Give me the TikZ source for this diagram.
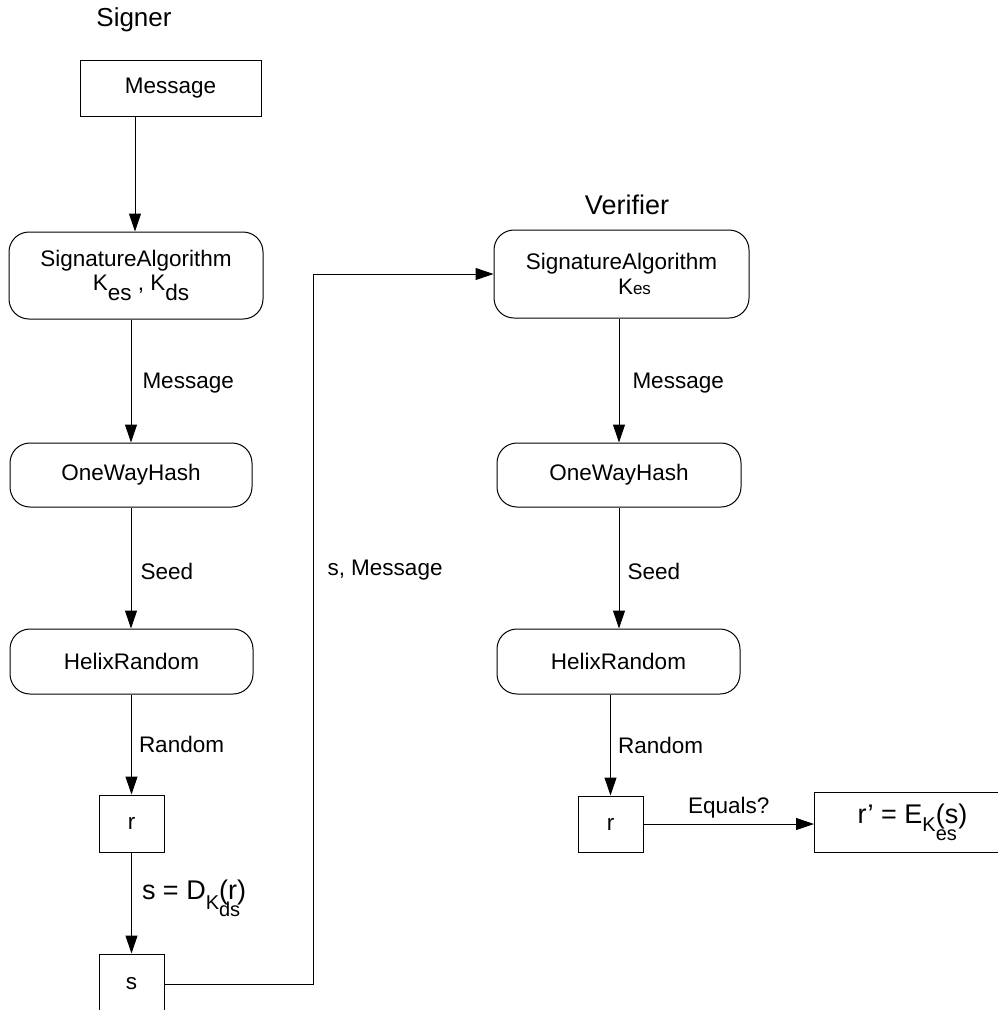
\documentclass[tikz,border=0pt]{standalone}
\usepackage{fontspec}
\setmainfont{Liberation Sans}
\usetikzlibrary{arrows.meta}
\newcommand{\fs}[1]{\fontsize{#1}{#1}\selectfont}
\begin{document}
\begin{tikzpicture}[x=1pt,y=-1pt,line width=1pt,
  box/.style={draw,rectangle,inner sep=0pt,font=\fs{22.5}},
  rbox/.style={draw,rectangle,rounded corners=20pt,inner sep=0pt,font=\fs{22.5},align=center},
  lbl/.style={font=\fs{22.5},anchor=west,inner sep=0pt},
  ttl/.style={inner sep=0pt},
  arr/.style={-{Triangle[length=18pt,width=12pt]}}]
\useasboundingbox (0,0) rectangle (998,1010);
\begin{scope}
\clip (0,0) rectangle (998,1010);
% Signer column
\node[ttl,font=\fs{26}] (signer) at (134,20) {Signer};
\node[box,minimum width=181pt,minimum height=56pt] (msg) at (170.5,88) {Message};
\node[rbox,minimum width=254pt,minimum height=87pt] (sig1) at (136,275.5)
  {\fs{22.5}{SignatureAlgorithm}\\[2pt]\hspace*{10pt}K\raisebox{-10pt}{es} , K\raisebox{-10pt}{ds}};
\node[rbox,minimum width=242pt,minimum height=64pt] (owh1) at (131,475) {OneWayHash};
\node[rbox,minimum width=243pt,minimum height=65pt] (hr1) at (131.5,661.5) {HelixRandom};
\node[box,minimum width=65pt,minimum height=57pt] (r1) at (131.5,823.5) {r};
\node[box,minimum width=65pt,minimum height=60pt] (s1) at (131.5,984) {s};
% Verifier column
\node[ttl,font=\fs{27}] (verifier) at (627,205) {Verifier};
\node[rbox,minimum width=255pt,minimum height=88pt] (sig2) at (621.5,274)
  {\fs{22.5}{SignatureAlgorithm}\\[2pt]\hspace*{26pt}K{\fs{17}es}};
\node[rbox,minimum width=244pt,minimum height=64pt] (owh2) at (619,475) {OneWayHash};
\node[rbox,minimum width=243pt,minimum height=65pt] (hr2) at (618.5,661.5) {HelixRandom};
\node[box,minimum width=65pt,minimum height=56pt] (r2) at (610.5,824) {r};
\node[box,minimum width=200pt,minimum height=60pt,anchor=west] (rp) at (814,822)
  {\hspace*{-4pt}\fs{27}r’ = E\raisebox{-8pt}{\fs{20}K\rlap{\raisebox{-9pt}{es}}}(s)};
% Signer connectors
\draw[arr] ([xshift=-35.5pt]msg.south) -- ([xshift=-35.5pt]msg.south |- sig1.north);
\draw[arr] (sig1.south -| owh1.north) -- node[lbl,pos=.52,xshift=11pt]{Message} (owh1.north);
\draw[arr] (owh1.south) -- node[lbl,pos=.53,xshift=9pt]{Seed} (owh1.south |- hr1.north);
\draw[arr] (hr1.south -| r1.north) -- node[lbl,pos=.5,xshift=7pt]{Random} (r1.north);
\draw[arr] (r1.south) -- node[lbl,pos=.45,xshift=10pt]{\fs{27}s = D\raisebox{-10pt}{\fs{20}K\rlap{\raisebox{-7pt}{ds}}}(r)} (s1.north);
\draw[arr] (s1.east) -- ++(149,0) coordinate (c1) |- (sig2.west);
\node[lbl] (smsg) at (327,570) {s, Message};
% Verifier connectors
\draw[arr] (sig2.south -| owh2.north) -- node[lbl,pos=.52,xshift=13pt]{Message} (owh2.north);
\draw[arr] (owh2.south) -- node[lbl,pos=.53,xshift=8pt]{Seed} (owh2.south |- hr2.north);
\draw[arr] (hr2.south -| r2.north) -- node[lbl,pos=.5,xshift=7pt]{Random} (r2.north);
\draw[arr] (r2.east) -- node[font=\fs{22.5},anchor=south,inner sep=0pt,yshift=5pt]{Equals?} (r2.east -| rp.west);
\end{scope}
\end{tikzpicture}
\end{document}
